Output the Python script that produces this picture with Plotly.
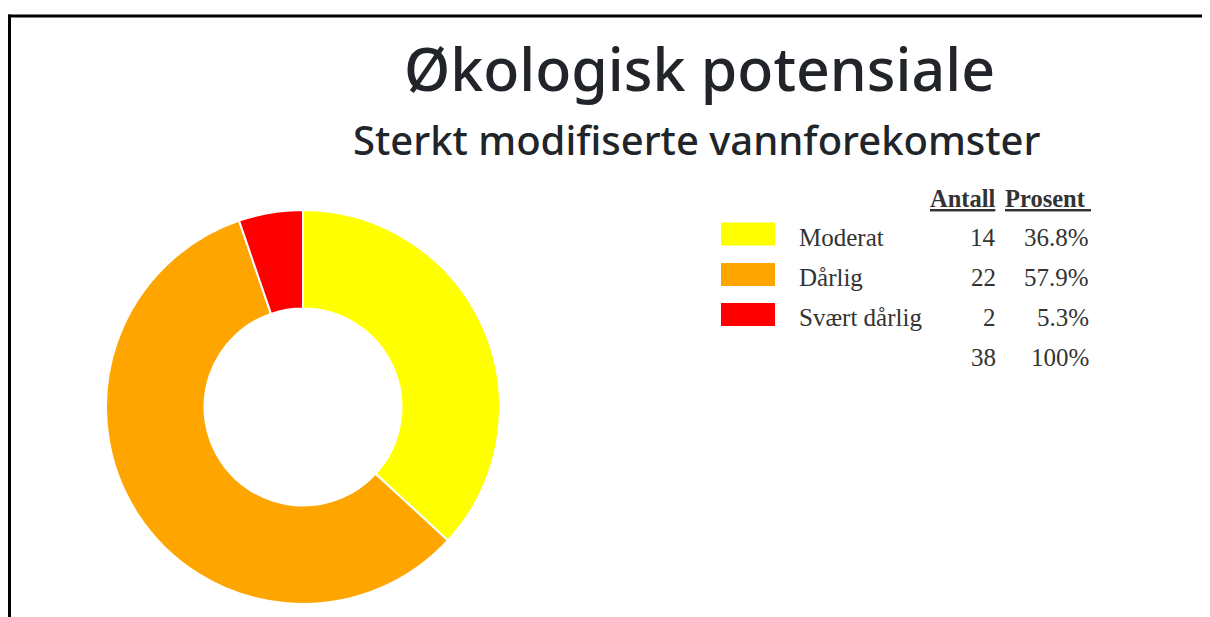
import plotly.graph_objects as go

# page body has 8px margin; figure placed at (8, 8)
OFF = 8
W, H = 1202, 609

title = "Økologisk potensiale"
subtitle = "Sterkt modifiserte vannforekomster"
categories = ["Moderat", "Dårlig", "Svært dårlig"]
counts = [14, 22, 2]
colors = ["#FFFF00", "#FFA500", "#FF0000"]
header_count = "Antall"
header_pct = "Prosent"

total = sum(counts)
pcts = [c / total * 100 for c in counts]


def px(x):
    return (x - OFF) / W


def py(y):
    return 1 - (y - OFF) / H


fig = go.Figure()
fig.add_trace(go.Pie(
    labels=categories,
    values=counts,
    marker=dict(colors=colors, line=dict(color="white", width=2)),
    hole=0.5,
    sort=False,
    direction="clockwise",
    rotation=0,
    textinfo="none",
    hoverinfo="label+value+percent",
    showlegend=False,
    domain=dict(x=[px(106), px(500)], y=[py(604), py(210)]),
))

annotations = []
shapes = []

annotations.append(dict(text=title, x=px(699), y=py(68), xref="paper", yref="paper",
                        showarrow=False, xanchor="center", yanchor="middle",
                        font=dict(family="Noto Sans", size=59, color="#212529", weight=500)))
annotations.append(dict(text=subtitle, x=px(697), y=py(140), xref="paper", yref="paper",
                        showarrow=False, xanchor="center", yanchor="middle",
                        font=dict(family="Noto Sans", size=40, color="#212529", weight=500)))

serif = "Liberation Serif, Times New Roman, serif"
tcol = "#333333"
fs = 25

annotations.append(dict(text="<b><u>" + header_count + "</u></b>", x=px(998), y=py(199),
                        xref="paper", yref="paper", showarrow=False,
                        xanchor="right", yanchor="middle",
                        font=dict(family=serif, size=fs - 0.5, color=tcol)))
annotations.append(dict(text="<b><u>" + header_pct + "&nbsp;</u></b>", x=px(1003), y=py(199),
                        xref="paper", yref="paper", showarrow=False,
                        xanchor="left", yanchor="middle",
                        font=dict(family=serif, size=fs - 0.5, color=tcol)))

row_y = [237, 277, 317]
sw_y = [234, 274.5, 314.5]
for i, (cat, cnt, pct, col) in enumerate(zip(categories, counts, pcts, colors)):
    shapes.append(dict(type="rect", xref="paper", yref="paper",
                       x0=px(721), x1=px(775), y0=py(sw_y[i] - 11.5), y1=py(sw_y[i] + 11.5),
                       fillcolor=col, line=dict(width=0)))
    annotations.append(dict(text=cat, x=px(797), y=py(row_y[i]), xref="paper", yref="paper",
                            showarrow=False, xanchor="left", yanchor="middle",
                            font=dict(family=serif, size=fs, color=tcol)))
    annotations.append(dict(text=str(cnt), x=px(998), y=py(row_y[i]), xref="paper", yref="paper",
                            showarrow=False, xanchor="right", yanchor="middle",
                            font=dict(family=serif, size=fs, color=tcol)))
    annotations.append(dict(text=f"{pct:.1f}%", x=px(1091), y=py(row_y[i]), xref="paper", yref="paper",
                            showarrow=False, xanchor="right", yanchor="middle",
                            font=dict(family=serif, size=fs, color=tcol)))

annotations.append(dict(text=str(total), x=px(998), y=py(357), xref="paper", yref="paper",
                        showarrow=False, xanchor="right", yanchor="middle",
                        font=dict(family=serif, size=fs, color=tcol)))
annotations.append(dict(text=f"{sum(pcts):.0f}%", x=px(1091), y=py(357), xref="paper", yref="paper",
                        showarrow=False, xanchor="right", yanchor="middle",
                        font=dict(family=serif, size=fs, color=tcol)))

# page border (top and left)
shapes.append(dict(type="line", xref="paper", yref="paper", x0=px(8), x1=px(1215),
                   y0=py(16), y1=py(16), line=dict(color="black", width=3)))
shapes.append(dict(type="line", xref="paper", yref="paper", x0=px(9.5), x1=px(9.5),
                   y0=py(14.5), y1=py(625), line=dict(color="black", width=3)))

fig.update_layout(
    width=W, height=H,
    margin=dict(l=0, r=0, t=0, b=0),
    paper_bgcolor="white",
    plot_bgcolor="white",
    annotations=annotations,
    shapes=shapes,
)

fig.write_html("out.html", config=dict(displayModeBar=False))
